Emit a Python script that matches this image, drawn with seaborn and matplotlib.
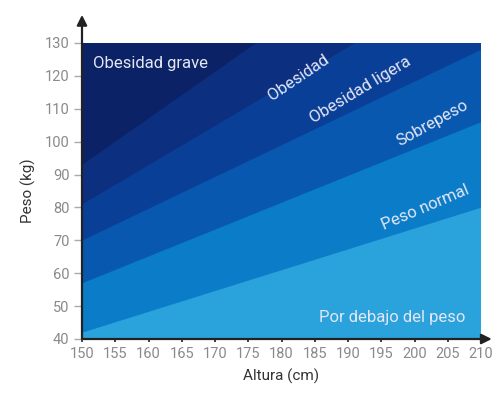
import matplotlib
matplotlib.use("Agg")
import matplotlib.pyplot as plt
import seaborn as sns
import numpy as np
import pandas as pd

# ---- data ----
heights = [150, 210]                     # cm (band edges evaluated at these heights)
b_under_normal = [42, 80]               # kg
b_normal_over = [57, 106]
b_over_light = [70, 128]
b_light_obese = [81, 152.7]
b_obese_severe = [93, 178]
y_min, y_max = 40, 130
x_ticks = list(range(150, 211, 5))
y_ticks = list(range(40, 131, 10))

band_names = ["Por debajo del peso", "Peso normal", "Sobrepeso",
              "Obesidad ligera", "Obesidad", "Obesidad grave"]
band_colors = ["#2aa3dc", "#0a7cc8", "#0858b0", "#0a3f98", "#0c2f80", "#0b2366"]

sns.set_theme(style="white")
plt.rcParams["font.family"] = ["Roboto", "DejaVu Sans"]

fig = plt.figure(figsize=(4.92, 4.04), dpi=100)
ax = fig.add_axes([82/492, 1-339/404, 399/492, (339-43)/404])

h = np.array(heights, dtype=float)
lower = [np.full(2, y_min), np.array(b_under_normal), np.array(b_normal_over),
         np.array(b_over_light), np.array(b_light_obese), np.array(b_obese_severe)]
# paint each band from its lower edge upward, later bands cover the earlier ones
for lo, c in zip(lower, band_colors):
    ax.fill_between(h, lo, np.full(2, 400.0), color=c, lw=0)

bounds = [b_under_normal, b_normal_over, b_over_light, b_light_obese, b_obese_severe]
for i, b in enumerate(bounds):
    df = pd.DataFrame({"h": heights, "w": b})
    sns.lineplot(data=df, x="h", y="w", color=band_colors[i + 1], lw=0.4,
                 ax=ax, legend=False)

ax.set_xlim(150, 210)
ax.set_ylim(y_min, y_max)
ax.set_xticks(x_ticks)
ax.set_yticks(y_ticks)
ax.set_xticklabels([str(t) for t in x_ticks], color="#8a8a8a", fontsize=10.5)
ax.set_yticklabels([str(t) for t in y_ticks], color="#8a8a8a", fontsize=10.5)
ax.tick_params(axis="y", length=6, width=1, color="#aaaaaa", pad=3, left=True)
ax.tick_params(axis="x", length=5, width=1.3, color="#333333", pad=3, bottom=True,
               direction="inout")
ax.set_xlabel("Altura (cm)", fontsize=11, color="#333333", labelpad=6)
ax.set_ylabel("Peso (kg)", fontsize=11, color="#333333", labelpad=6)
for s in ["top", "right", "left", "bottom"]:
    ax.spines[s].set_visible(False)

# axis arrows
ax.annotate("", xy=(0, 1.095), xytext=(0, 0), xycoords="axes fraction",
            arrowprops=dict(arrowstyle="-|>,head_width=0.25,head_length=0.5",
                            color="#222222", lw=1.6, shrinkA=0, shrinkB=0),
            annotation_clip=False)
ax.annotate("", xy=(1.027, 0), xytext=(0, 0), xycoords="axes fraction",
            arrowprops=dict(arrowstyle="-|>,head_width=0.25,head_length=0.5",
                            color="#222222", lw=1.6, shrinkA=0, shrinkB=0),
            annotation_clip=False)

tc = "#e4e6f4"
fs = 12
ax.text(151.6, 123.9, "Obesidad grave", color=tc, fontsize=fs, ha="left", va="center")
ax.text(182.5, 119.6, "Obesidad", color=tc, fontsize=fs, ha="center", va="center",
        rotation=34, rotation_mode="anchor")
ax.text(191.9, 115.7, "Obesidad ligera", color=tc, fontsize=fs, ha="center", va="center",
        rotation=31, rotation_mode="anchor")
ax.text(202.7, 105.6, "Sobrepeso", color=tc, fontsize=fs, ha="center", va="center",
        rotation=29, rotation_mode="anchor")
ax.text(201.7, 80.0, "Peso normal", color=tc, fontsize=fs, ha="center", va="center",
        rotation=23, rotation_mode="anchor")
ax.text(207.7, 46.5, "Por debajo del peso", color=tc, fontsize=fs, ha="right", va="center")

fig.savefig("out.png", dpi=100)
